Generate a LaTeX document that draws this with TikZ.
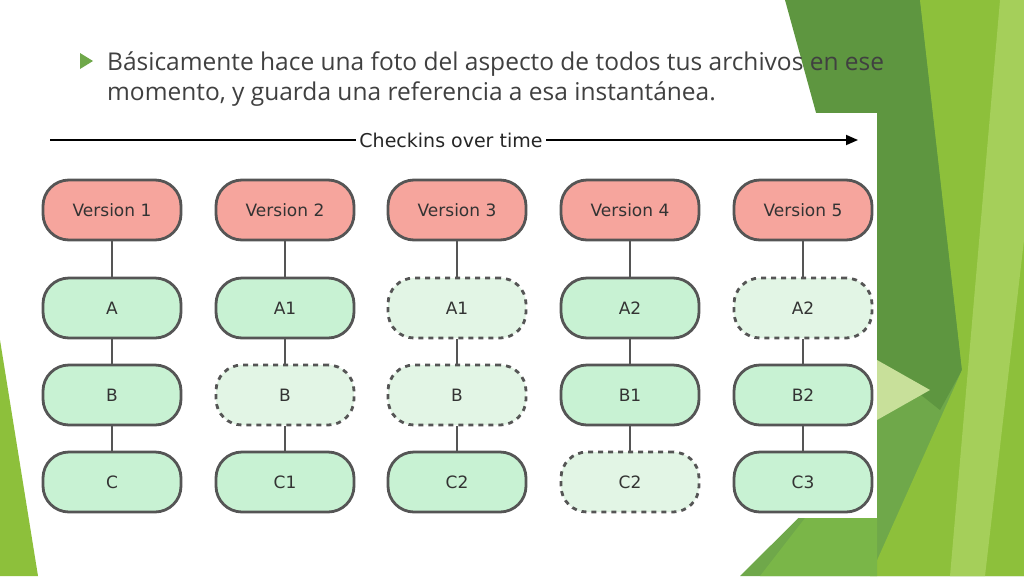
\documentclass[tikz,border=0pt]{standalone}
\usepackage{fontspec}
\setmainfont{Open Sans}
\newfontfamily\djfont{DejaVu Sans}
\usetikzlibrary{arrows.meta}
\definecolor{verfill}{HTML}{F6A59D}
\definecolor{filefill}{HTML}{C8F2D3}
\definecolor{ghostfill}{HTML}{E2F5E5}
\definecolor{edge}{HTML}{555555}
\definecolor{txt}{HTML}{404040}
\definecolor{gmid}{HTML}{6FA84A}
\definecolor{gdark}{HTML}{5E9640}
\definecolor{glime}{HTML}{8DC03B}
\definecolor{glight}{HTML}{A5CF5A}
\definecolor{gpale}{HTML}{C8E09A}
\definecolor{gbot}{HTML}{7AB648}
\tikzset{
  box/.style={rounded corners=26pt, minimum width=138pt, minimum height=60pt, line width=2.8pt, draw=edge, font=\djfont\fontsize{17}{20}\selectfont, text=black!80},
  ver/.style={box, fill=verfill},
  file/.style={box, fill=filefill},
  ghost/.style={box, fill=ghostfill, dash pattern=on 5pt off 5pt},
  link/.style={edge, line width=1.5pt}
}
\begin{document}
\begin{tikzpicture}[x=1pt,y=-1pt]
\useasboundingbox (0,0) rectangle (1024,576);
\fill[white] (0,0) rectangle (1024,576);
% decoration
\fill[gmid] (785,0) -- (1024,0) -- (1024,576) -- (740,576) -- (877,440) -- (877,113) -- cycle;
\fill[gdark] (785,0) -- (920,0) -- (962,370) -- (940,410) -- (877,360) -- (840,200) -- cycle;
\fill[glime] (920,0) -- (1024,0) -- (1024,576) -- (870,576) -- (962,370) -- cycle;
\fill[glight] (1000,0) -- (1024,0) -- (1024,240) -- (985,576) -- (950,576) -- cycle;
\fill[gpale] (877,360) -- (930,390) -- (877,420) -- cycle;
\fill[gbot] (760,576) -- (805,518) -- (877,518) -- (877,576) -- cycle;
\fill[glime] (0,340) -- (38,576) -- (0,576) -- cycle;
% panel
\fill[white] (40,113) rectangle (877,518);
% title
\fill[gmid] (80,53) -- (93,61) -- (80,69) -- cycle;
\node[anchor=base west, text=txt, font=\fontsize{24.5}{28}\selectfont, inner sep=0] (t1) at (107,70) {Básicamente hace una foto del aspecto de todos tus archivos en ese};
\node[anchor=base west, text=txt, font=\fontsize{24.5}{28}\selectfont, inner sep=0] (t2) at (107,100) {momento, y guarda una referencia a esa instantánea.};
% timeline
\node[font=\djfont\fontsize{19}{22}\selectfont, text=black!85] (ck) at (451,140) {Checkins over time};
\coordinate (l0) at (50,140);
\coordinate (r0) at (858,140);
\draw[line width=1.8pt] (l0) -- (ck.west);
\draw[line width=1.8pt, -{Triangle[length=12pt,width=10pt]}] (ck.east) -- (r0);
% columns
\foreach \i/\x/\a/\as/\b/\bs/\c/\cs in {1/112/A/file/B/file/C/file, 2/285/A1/file/B/ghost/C1/file, 3/457/A1/ghost/B/ghost/C2/file, 4/630/A2/file/B1/file/C2/ghost, 5/803/A2/ghost/B2/file/C3/file}{
  \node[ver] (v\i) at (\x,210) {Version \i};
  \node[\as] (a\i) at (\x,308) {\a};
  \node[\bs] (b\i) at (\x,395) {\b};
  \node[\cs] (c\i) at (\x,482) {\c};
  \draw[link] (v\i) -- (a\i);
  \draw[link] (a\i) -- (b\i);
  \draw[link] (b\i) -- (c\i);
}
\end{tikzpicture}
\end{document}
